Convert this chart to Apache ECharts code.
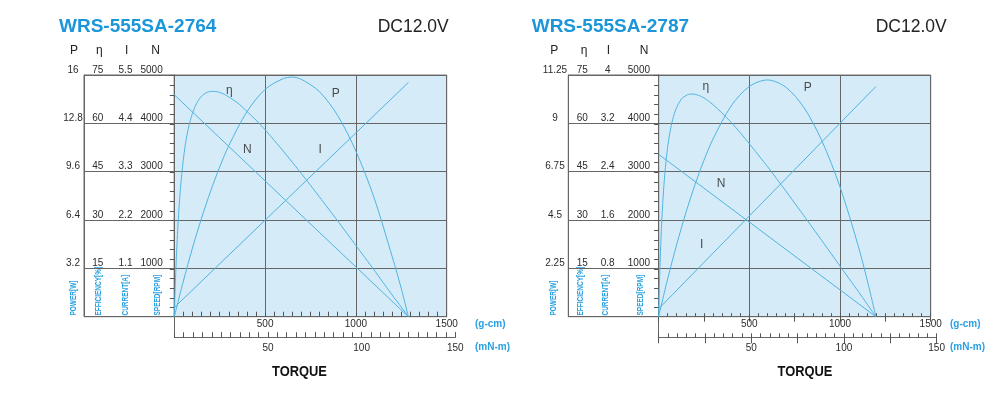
<!DOCTYPE html>
<html><head><meta charset="utf-8">
<script src="https://cdn.jsdelivr.net/npm/echarts@6/dist/echarts.min.js"></script>
<style>html,body{margin:0;padding:0;background:#fff}#c{width:1001px;height:403px}</style>
</head><body><div id="c"></div>
<script>
// ---------- data : WRS-555SA-2764 ----------
const effTorque2764 = [0,2,4,6,8,10,12,15,20,25,30,35,40,50,60,70,80,90,100,115,130,145,160,180,200,225,250,275,300,350,400,450,500,600,700,800,900,1000,1100,1200,1250,1289];
const efficiency2764 = [0,3.8,7.3,10.7,13.7,16.5,19.2,22.8,28.3,33.0,37.0,40.6,43.6,48.9,53.1,56.4,59.1,61.3,63.1,65.3,66.9,68.1,68.9,69.6,69.9,69.9,69.6,69.0,68.2,66.3,63.7,61.0,58.0,51.4,44.4,37.1,29.7,22.1,14.5,6.7,3.0,0];
const powTorque2764 = [0,50,100,150,200,250,300,400,500,600,650,700,800,900,1000,1100,1200,1250,1289];
const power2764 = [0,2.36,4.54,6.52,8.31,9.91,11.32,13.57,15.05,15.76,15.86,15.71,14.89,13.31,10.96,7.88,3.97,1.86,0];
const lineTorque2764 = [0,1289];
const speed2764 = [4590,0];
const current2764 = [0.21,5.33];
const pTicks2764 = [3.2,6.4,9.6,12.8,16];
const effTicks2764 = [15,30,45,60,75];
const iTicks2764 = [1.1,2.2,3.3,4.4,5.5];
const nTicks2764 = [1000,2000,3000,4000,5000];
const labelNames2764 = ['η','P','N','I'];
const labelTorque2764 = [303,889,402,803];
const labelSpeed2764 = [4680,4620,3460,3450];

// ---------- data : WRS-555SA-2787 ----------
const effTorque2787 = [0,2,4,6,8,10,12,15,20,25,30,35,40,50,60,70,80,90,100,115,130,145,160,180,200,225,250,275,300,350,400,450,500,600,700,800,900,1000,1100,1150,1198];
const efficiency2787 = [0,4.7,8.9,12.8,16.3,19.5,22.5,26.5,32.3,37.2,41.3,44.8,47.8,52.7,56.4,59.4,61.7,63.5,65.0,66.6,67.8,68.4,68.9,69.1,69.0,68.6,67.9,66.9,65.8,63.2,60.3,57.1,53.7,46.6,39.1,31.4,23.6,15.7,7.9,3.9,0];
const powTorque2787 = [0,50,100,150,200,250,300,400,500,600,700,800,900,1000,1100,1150,1198];
const power2787 = [0,1.76,3.37,4.83,6.13,7.28,8.27,9.81,10.72,11.02,10.69,9.75,8.19,6.04,3.31,1.70,0];
const lineTorque2787 = [0,1198];
const speed2787 = [3360,0];
const current2787 = [0.13,3.81];
const pTicks2787 = [2.25,4.5,6.75,9,11.25];
const effTicks2787 = [15,30,45,60,75];
const iTicks2787 = [0.8,1.6,2.4,3.2,4];
const nTicks2787 = [1000,2000,3000,4000,5000];
const labelNames2787 = ['η','P','N','I'];
const labelTorque2787 = [261,822,344,238];
const labelSpeed2787 = [4760,4730,2750,1480];

// shared axis ticks
const gcmTicks = [500,1000,1500];
const mnmTicks = [50,100,150];

const LINE = '#4fb3e0', GRIDC = '#666', TXT = '#2b2b2b', BLUE = '#1b96d9', NAMEBLUE = '#2aa0e2';
const FONT = '"Liberation Sans", Arial, sans-serif';
const NARROW = '"Liberation Sans Narrow", "Liberation Sans", sans-serif';

const grids = [], xAxes = [], yAxes = [], series = [], graphics = [];

function zip(a, b) { return a.map((v, i) => [v, b[i]]); }
function last(a) { return a[a.length - 1]; }

function addChart(c) {
  const gi = grids.length, xi = xAxes.length, yi = yAxes.length;
  const T = 75, H = 241.7, B = T + H, band = H / 5;
  grids.push(
    {left: c.left, top: T, width: c.width, height: H, show: true, backgroundColor: '#d6ebf8', borderColor: '#777', borderWidth: 1},
    {left: c.left - 90.3, top: T, width: 90.3, height: H, show: true, backgroundColor: 'rgba(0,0,0,0)', borderColor: '#666', borderWidth: 1},
    {left: c.left, top: B - 9 - 4.8 * band, width: c.width, height: 4.8 * band},
    {left: c.left, top: B, width: c.mnLen, height: 20.6}
  );
  const lblBase = {fontSize: 10, color: TXT, fontFamily: FONT};
  const tickStyle = {color: '#555', width: 1};
  xAxes.push(
    {gridIndex: gi, type: 'value', position: 'bottom', min: 0, max: last(gcmTicks), interval: gcmTicks[0],
      splitLine: {show: true, lineStyle: {color: GRIDC, width: 1}}, axisLine: {show: false}, axisTick: {show: false},
      axisLabel: Object.assign({margin: 3, formatter: v => gcmTicks.includes(v) ? String(v) : ''}, lblBase)},
    {gridIndex: gi, type: 'value', position: 'bottom', min: 0, max: 1500, interval: 50, splitLine: {show: false}, axisLine: {show: false},
      axisLabel: {show: false}, axisTick: {show: true, inside: true, length: c.tickIn, lineStyle: tickStyle}},
    {gridIndex: gi, type: 'value', position: 'bottom', min: 0, max: 1500, interval: 250, show: c.outTicks, splitLine: {show: false}, axisLine: {show: false},
      axisLabel: {show: false}, axisTick: {show: true, inside: false, length: 5, lineStyle: tickStyle}},
    {gridIndex: gi + 1, type: 'value', position: 'bottom', show: false, min: 0, max: 1},
    {gridIndex: gi + 2, type: 'value', position: 'bottom', show: false, min: 0, max: 1},
    {gridIndex: gi + 3, type: 'value', position: 'bottom', min: 0, max: last(mnmTicks), interval: 25, splitLine: {show: false},
      axisLine: {show: true, lineStyle: {color: GRIDC, width: 1}},
      axisTick: {show: true, inside: !c.outTicks, length: c.outTicks ? 6 : 5, lineStyle: tickStyle},
      axisLabel: Object.assign({margin: 6, formatter: v => mnmTicks.includes(v) ? String(v) : ''}, lblBase)},
    {gridIndex: gi + 3, type: 'value', position: 'bottom', min: 0, max: last(mnmTicks), interval: 5, splitLine: {show: false}, axisLine: {show: false},
      axisLabel: {show: false}, axisTick: {show: true, inside: true, length: c.outTicks ? 4 : 5, lineStyle: tickStyle}}
  );
  const fmt = v => (v === 0 ? '' : String(v));
  function valAxis(ticks, offset, margin, align, showLine) {
    return {gridIndex: gi, type: 'value', position: 'left', offset: offset, min: 0, max: last(ticks), interval: ticks[0],
      splitLine: {show: offset === 0, lineStyle: {color: GRIDC, width: 1}},
      axisLine: {show: showLine, lineStyle: {color: GRIDC, width: 1}}, axisTick: {show: false},
      axisLabel: Object.assign({margin: margin, align: align, verticalAlign: 'bottom', formatter: fmt, showMinLabel: false}, lblBase)};
  }
  yAxes.push(
    valAxis(c.nTicks, 0, c.mN, 'right', false),
    valAxis(c.iTicks, 35.6, c.mI, 'center', true),
    valAxis(c.effTicks, 63, c.mE, 'center', true),
    valAxis(c.pTicks, 90.3, c.mP, 'center', true),
    {gridIndex: gi + 1, type: 'value', position: 'left', min: 0, max: 5, interval: 1, splitLine: {show: true, lineStyle: {color: GRIDC, width: 1}},
      axisLine: {show: false}, axisTick: {show: false}, axisLabel: {show: false}},
    {gridIndex: gi + 2, type: 'value', position: 'left', min: 0, max: 4800, interval: 200, splitLine: {show: false}, axisLine: {show: false},
      axisLabel: {show: false}, axisTick: {show: true, length: 4.5, lineStyle: tickStyle}},
    {gridIndex: gi + 3, type: 'value', position: 'left', min: 0, max: 1, splitLine: {show: false}, axisLine: {show: true, lineStyle: {color: GRIDC, width: 1}},
      axisTick: {show: false}, axisLabel: {show: false}}
  );
  const ls = {color: LINE, width: 1};
  series.push(
    {type: 'line', xAxisIndex: xi, yAxisIndex: yi, data: zip(c.lineTorque, c.speed), symbol: 'none', lineStyle: ls, silent: true},
    {type: 'line', xAxisIndex: xi, yAxisIndex: yi + 1, data: zip(c.lineTorque, c.current), symbol: 'none', lineStyle: ls, silent: true},
    {type: 'line', xAxisIndex: xi, yAxisIndex: yi + 2, data: zip(c.effTorque, c.eff), symbol: 'none', smooth: 0.2, lineStyle: ls, silent: true},
    {type: 'line', xAxisIndex: xi, yAxisIndex: yi + 3, data: zip(c.powTorque, c.power), symbol: 'none', smooth: 0.3, lineStyle: ls, silent: true},
    {type: 'scatter', xAxisIndex: xi, yAxisIndex: yi, symbolSize: 0, silent: true,
      data: c.labelNames.map((n, i) => ({name: n, value: [c.labelTorque[i], c.labelSpeed[i]]})),
      label: {show: true, position: 'inside', formatter: '{b}', fontSize: 12, color: '#222', fontFamily: FONT}}
  );
  // texts
  function txt(x, y, text, font, fill, align, extra) {
    graphics.push(Object.assign({type: 'text', x: x, y: y, silent: true,
      style: {text: text, font: font, fill: fill, align: align, verticalAlign: 'middle', textAlign: align, textVerticalAlign: 'middle'}}, extra || {}));
  }
  txt(c.titleX, 27, c.title, 'bold 19px ' + FONT, BLUE, 'left');
  txt(c.dcX, 27, 'DC12.0V', '17.5px ' + FONT, '#222', 'left');
  ['P', 'η', 'I', 'N'].forEach((h, i) => txt(c.headX[i], 50.7, h, '12px ' + FONT, '#222', 'center'));
  ['POWER[W]', 'EFFICIENCY[%]', 'CURRENT[A]', 'SPEED[RPM]'].forEach((h, i) =>
    txt(c.nameX[i], 315.5, h, 'bold 9px ' + NARROW, NAMEBLUE, 'left', {rotation: Math.PI / 2, scaleX: 0.72}));
  txt(c.unitX, 324.5, '(g-cm)', 'bold 10px ' + NARROW, NAMEBLUE, 'left');
  txt(c.unitX, 347.5, '(mN-m)', 'bold 10px ' + NARROW, NAMEBLUE, 'left');
  txt(c.torqueX, 371.7, 'TORQUE', 'bold 15px ' + NARROW, '#111', 'center', {scaleX: 0.86});
}

addChart({left: 174.3, width: 272.4, mnLen: 281, tickIn: 5, outTicks: false,
  mN: 11.6, mI: 13.2, mE: 13.6, mP: 11,
  nTicks: nTicks2764, iTicks: iTicks2764, effTicks: effTicks2764, pTicks: pTicks2764,
  lineTorque: lineTorque2764, speed: speed2764, current: current2764,
  effTorque: effTorque2764, eff: efficiency2764, powTorque: powTorque2764, power: power2764,
  labelNames: labelNames2764, labelTorque: labelTorque2764, labelSpeed: labelSpeed2764,
  title: 'WRS-555SA-2764', titleX: 59, dcX: 377.7, headX: [74, 99.3, 126.7, 155.7],
  nameX: [73.3, 98.7, 125.7, 157.3], unitX: 475, torqueX: 299.5});

addChart({left: 658.6, width: 272.1, mnLen: 278, tickIn: 3.5, outTicks: true,
  mN: 8.6, mI: 15.3, mE: 13.4, mP: 13.3,
  nTicks: nTicks2787, iTicks: iTicks2787, effTicks: effTicks2787, pTicks: pTicks2787,
  lineTorque: lineTorque2787, speed: speed2787, current: current2787,
  effTorque: effTorque2787, eff: efficiency2787, powTorque: powTorque2787, power: power2787,
  labelNames: labelNames2787, labelTorque: labelTorque2787, labelSpeed: labelSpeed2787,
  title: 'WRS-555SA-2787', titleX: 531.7, dcX: 875.7, headX: [554.3, 584, 608.3, 644],
  nameX: [553.3, 581, 606, 640.7], unitX: 950, torqueX: 805});

const chart = echarts.init(document.getElementById('c'), null, {renderer: 'canvas'});
chart.setOption({
  animation: false,
  backgroundColor: '#fff',
  grid: grids, xAxis: xAxes, yAxis: yAxes, series: series,
  graphic: {elements: graphics}
});
</script></body></html>
